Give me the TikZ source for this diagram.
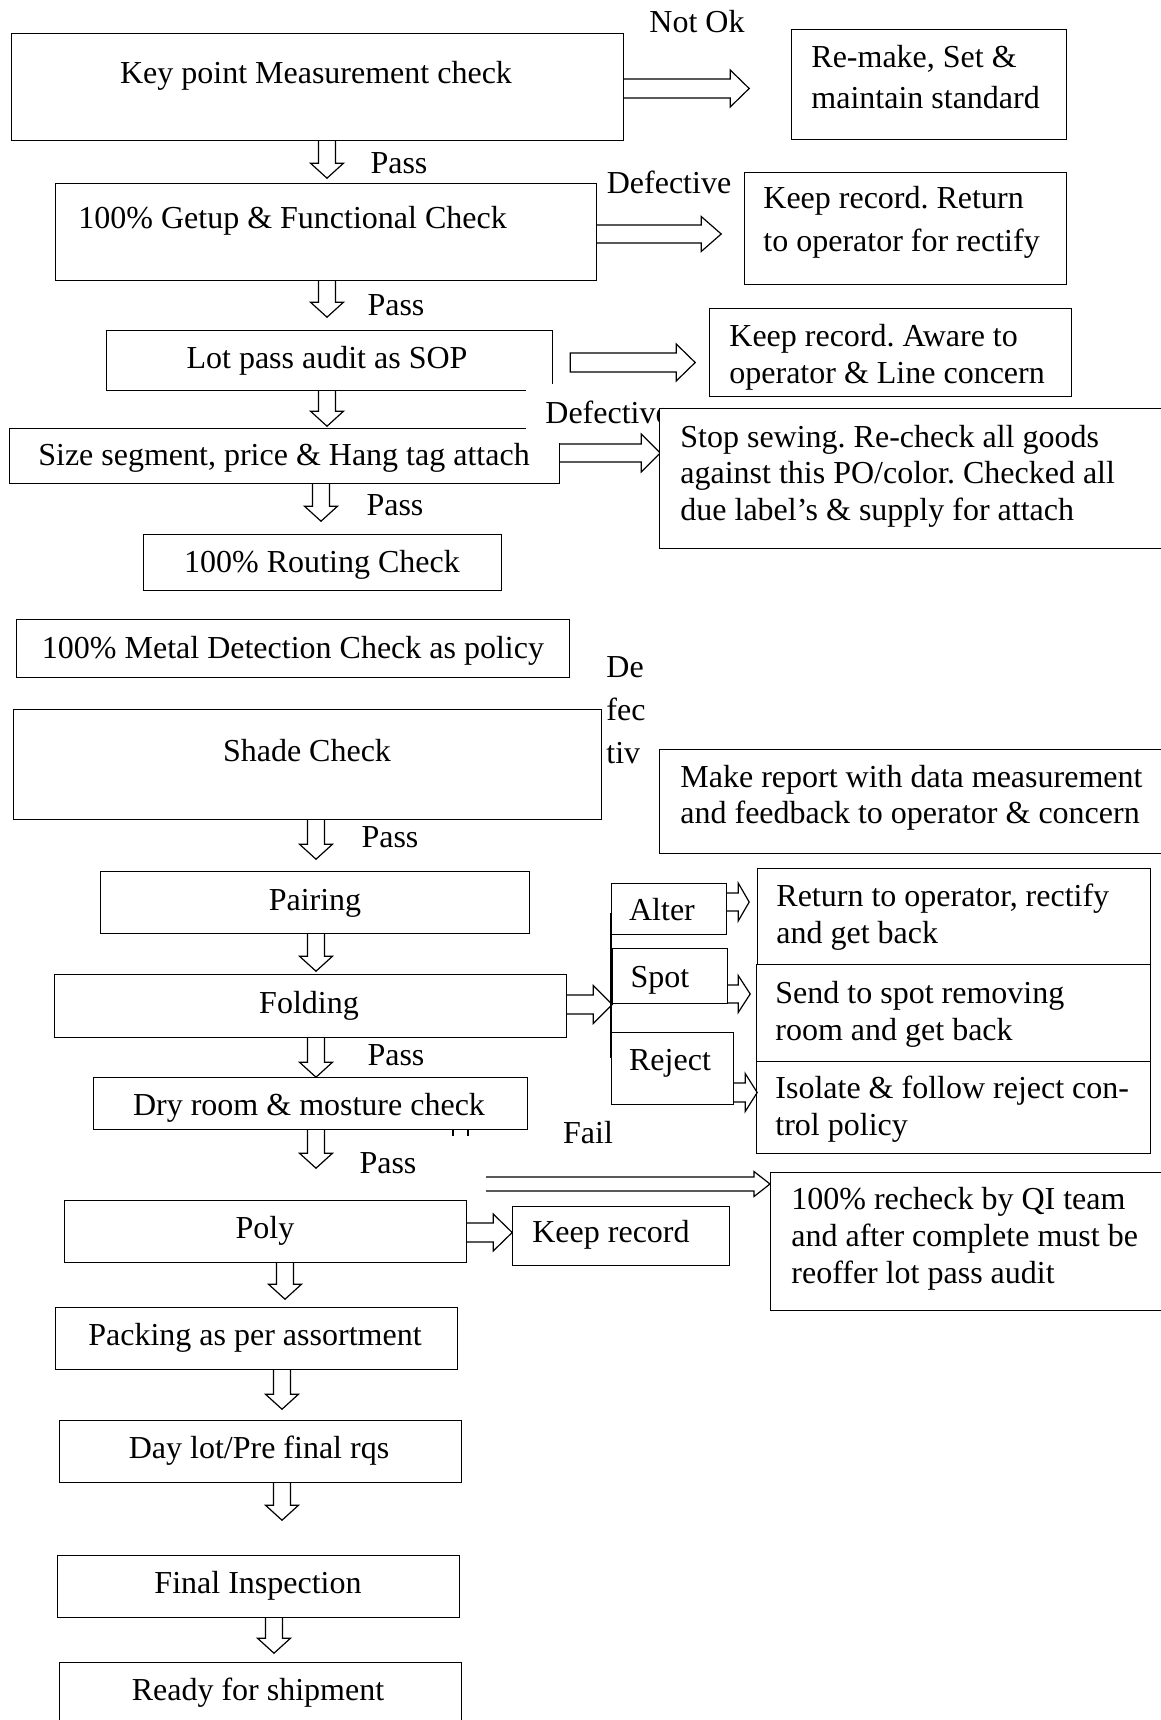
\documentclass[tikz,border=0pt]{standalone}
\usepackage{fontspec}
\setmainfont{Liberation Serif}
\usetikzlibrary{calc}
\frenchspacing
\newcommand\bx[6][]{\node[box,#1,anchor=north west,minimum width={(#5-#3)*0.5pt},minimum height={(#6-#4)*0.5pt}] (#2) at (#3,#4) {};}
% #1 closing, #2 start (with y centre), #3 body length, #4 body half, #5 head half, #6 head length
\newcommand\harrow[6][]{\draw[blk] #2 ++(0,-#4) -- ++(#3,0) -- ++(0,#4-#5) -- ++(#6,#5) -- ++(-#6,#5) -- ++(0,#4-#5) -- ++(-#3,0) #1;}
% #1 node, #2 x centre, #3 length
\newcommand\varrow[3]{\draw[blk] (#2,0 |- #1.south) ++(-8.5,0) -- ++(0,#3-15) -- ++(-8,0) -- ++(16.5,15) -- ++(16.5,-15) -- ++(-8,0) -- ++(0,15-#3);}
\begin{document}
\frenchspacing
\begin{tikzpicture}[x=0.5pt,y=-0.5pt,
  box/.style={draw=black,line width=0.6pt,inner sep=0pt},
  blk/.style={draw=black,line width=0.6pt,line join=miter},
  txt/.style={font=\fontsize{16}{18.25}\selectfont,inner sep=0pt,anchor=base},
  ml/.style={font=\fontsize{16}{#1}\selectfont,inner sep=0pt,anchor=base west,align=left}]
\useasboundingbox (0,0) rectangle (1161,1720);

% ---- boxes
\bx{key}{11}{33}{623}{140}
\bx{remake}{791}{29}{1066}{139}
\bx{getup}{55}{183}{596}{280}
\bx{ret}{744}{172}{1066}{284}
\bx{lot}{106}{330}{552}{390}
\bx{aware}{709}{308}{1071}{396}
\bx{size}{9}{428}{559}{483}
\fill[white] (526,384) rectangle (659,443);
\node[txt,anchor=base west] (def2) at (545,423) {Defective};
\harrow{(size.east |- 0,453)}{81}{9}{19}{19}
\bx[fill=white]{stop}{659}{408}{1170}{548}
\bx{routing}{143}{534}{501}{590}
\bx{metal}{16}{619}{569}{677}
\bx{shade}{13}{709}{601}{819}
\bx{report}{659}{749}{1170}{853}
\bx{pairing}{100}{871}{529}{933}
\bx{folding}{54}{974}{566}{1037}
\bx{alter}{611}{883}{726}{934}
\bx{spot}{612}{948}{727}{1003}
\bx{reject}{611}{1032}{733}{1104}
\bx{ret2}{757}{868}{1150}{964}
\bx{send}{756}{964}{1150}{1061}
\bx{isolate}{756}{1061}{1150}{1153}
\bx{dry}{93}{1077}{527}{1129}
\bx{recheck}{770}{1172}{1170}{1310}
\bx{poly}{64}{1200}{466}{1262}
\bx{keeprec}{512}{1206}{729}{1265}
\bx{packing}{55}{1307}{457}{1369}
\bx{daylot}{59}{1420}{461}{1482}
\bx{final}{57}{1555}{459}{1617}
\bx{ready}{59}{1662}{461}{1730}

% ---- texts in boxes (multi-line nodes: base = last line)
\node[txt] (tkey) at (316,83) {Key point Measurement check};
\node[ml=20.5pt] (tremake) at (811,108) {Re-make, Set \&\\maintain standard};
\node[txt,anchor=base west] (tgetup) at (78,228) {100\% Getup \& Functional Check};
\node[ml=21.5pt] (tret) at (763,251) {Keep record. Return\\to operator for rectify};
\node[txt] (tlot) at (327,368) {Lot pass audit as SOP};
\node[ml=18.25pt] (taware) at (729,383) {Keep record. Aware to\\operator \& Line concern};
\node[txt] (tsize) at (284,465) {Size segment, price \& Hang tag attach};
\node[ml=18.25pt] (tstop) at (680,520) {Stop sewing. Re-check all goods\\against this PO/color. Checked all\\due label’s \& supply for attach};
\node[txt] (trouting) at (322,572) {100\% Routing Check};
\node[txt] (tmetal) at (293,658) {100\% Metal Detection Check as policy};
\node[txt] (tshade) at (307,761) {Shade Check};
\node[ml=18pt] (treport) at (680,823) {Make report with data measurement\\and feedback to operator \& concern};
\node[txt] (tpairing) at (315,910) {Pairing};
\node[txt] (tfolding) at (309,1013) {Folding};
\node[txt] (talter) at (662,920) {Alter};
\node[txt] (tspot) at (660,987) {Spot};
\node[txt] (treject) at (670,1070) {Reject};
\node[ml=18.25pt] (tret2) at (776,943) {Return to operator, rectify\\and get back};
\node[ml=18.25pt] (tsend) at (775,1040) {Send to spot removing\\room and get back};
\node[ml=18.25pt] (tisolate) at (775,1135) {Isolate \& follow reject con-\\trol policy};
\node[txt] (tdry) at (309,1115) {Dry room \& mosture check};
\node[ml=18.5pt] (trecheck) at (791,1283) {100\% recheck by QI team\\and after complete must be\\reoffer lot pass audit};
\node[txt] (tpoly) at (265,1238) {Poly};
\node[txt] (tkeeprec) at (611,1242) {Keep record};
\node[txt] (tpacking) at (255,1345) {Packing as per assortment};
\node[txt] (tdaylot) at (259,1458) {Day lot/Pre final rqs};
\node[txt] (tfinal) at (258,1593) {Final Inspection};
\node[txt] (tready) at (258,1700) {Ready for shipment};

% ---- labels
\node[txt] (notok) at (697,32) {Not Ok};
\node[txt] (def1) at (669,193) {Defective};
\node[ml=21.5pt] (def3) at (606,763) {De\\fec\\tiv};
\node[txt] (fail) at (588,1143) {Fail};
\node[txt] (pass1) at (399,173) {Pass};
\node[txt] (pass2) at (396,315) {Pass};
\node[txt] (pass3) at (395,515) {Pass};
\node[txt] (pass4) at (390,847) {Pass};
\node[txt] (pass5) at (396,1065) {Pass};
\node[txt] (pass6) at (388,1173) {Pass};

% ---- side arrows
\harrow{(key.east |- 0,88.5)}{106}{9.5}{18.5}{19}
\harrow{(getup.east |- 0,234)}{104}{9}{17.5}{20}
\harrow[-- cycle]{($(lot.east |- 0,362.5)+(17,0)$)}{106}{9.5}{18.5}{19}
\harrow{(folding.east |- 0,1004.5)}{26}{9.5}{19}{19}
\harrow{(alter.east |- 0,902)}{11}{9}{19}{11}
\harrow{(spot.east |- 0,994)}{10}{9}{18.5}{12}
\harrow{(reject.east |- 0,1092.5)}{11}{9.5}{19}{12}
\coordinate (failstart) at (486,1184);
\harrow{(failstart)}{268}{7}{12.5}{16}
\harrow{(poly.east |- 0,1232.5)}{26}{9.5}{18.5}{19}
\draw[blk] (alter.west |- 0,913) -- (reject.west |- 0,1058);
\draw[blk] (453,1129) -- (453,1136) (468,1129) -- (468,1136);

% ---- down arrows
\varrow{key}{327}{37}
\varrow{getup}{327}{36}
\varrow{lot}{327}{35}
\varrow{size}{321}{37}
\varrow{shade}{316}{39}
\varrow{pairing}{316}{37}
\varrow{folding}{316}{39}
\varrow{dry}{316}{38}
\varrow{poly}{285}{36}
\varrow{packing}{282}{39}
\varrow{daylot}{282}{37}
\varrow{final}{274}{35}
\end{tikzpicture}
\end{document}
